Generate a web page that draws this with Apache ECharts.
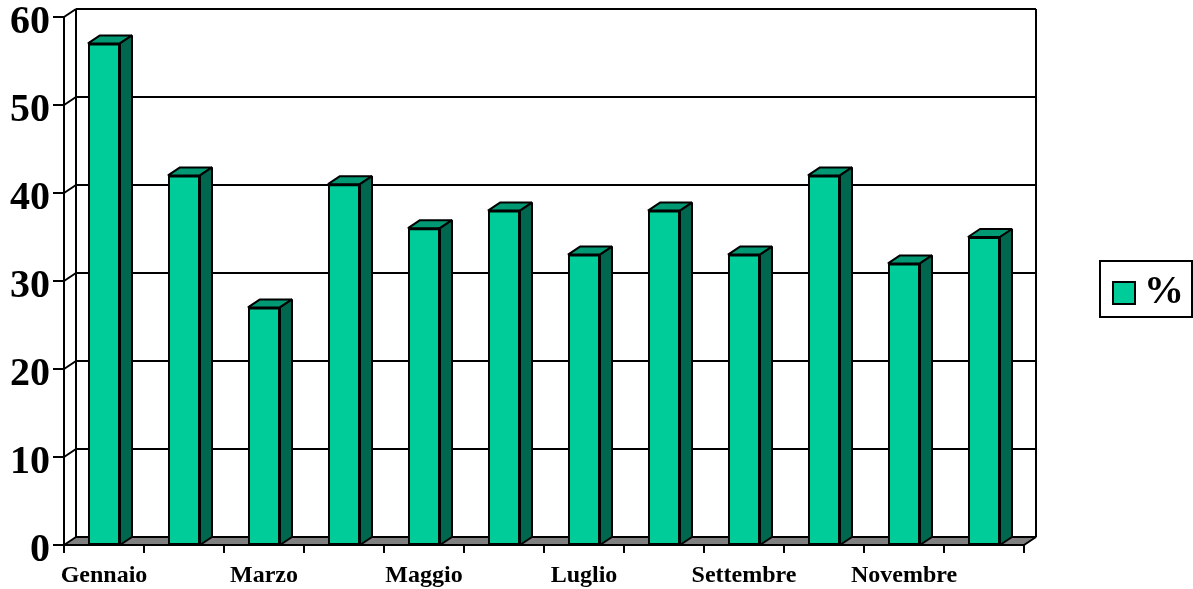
<!DOCTYPE html>
<html><head><meta charset="utf-8">
<style>html,body{margin:0;padding:0;background:#fff}#c{width:1193px;height:589px}</style>
<script src="https://cdn.jsdelivr.net/npm/echarts@6/dist/echarts.min.js"></script>
</head><body><div id="c"></div>
<script>
var months = ['Gennaio','Febbraio','Marzo','Aprile','Maggio','Giugno','Luglio','Agosto','Settembre','Ottobre','Novembre','Dicembre'];
var values = [57,42,27,41,36,38,33,38,33,42,32,35];
var yTicks = [0,10,20,30,40,50,60];
var seriesName = '%';

var depthX = 12, depthY = -8;
var FRONT = '#00CC99', TOP = '#009973', SIDE = '#00664D', FLOOR = '#808080', INK = '#000';
var FONT = '"Liberation Serif","Times New Roman",serif';
var stroke = {stroke: INK, lineWidth: 2, lineJoin: 'bevel'};

function poly(points, fill){
  return {type:'polygon', shape:{points:points}, style:Object.assign({fill:fill}, stroke)};
}
function line(a,b){
  return {type:'line', shape:{x1:a[0],y1:a[1],x2:b[0],y2:b[1]}, style:Object.assign({fill:null}, stroke)};
}

var chart = echarts.init(document.getElementById('c'), null, {renderer:'canvas'});
chart.setOption({
  animation:false,
  backgroundColor:'#fff',
  grid:{left:64, top:17, width:960, height:528, containLabel:false, outerBoundsMode:'none'},
  legend:{
    data:[seriesName], left:1100, top:261, orient:'vertical',
    borderColor:INK, borderWidth:2, padding:[12,8,4,12],
    itemWidth:22, itemHeight:22, itemGap:0, icon:'rect',
    selectedMode:false,
    textStyle:{fontFamily:FONT, fontWeight:'bold', fontSize:40, color:INK, padding:[0,0,0,4]}
  },
  xAxis:{
    type:'category', data:months, boundaryGap:true,
    axisLine:{onZero:false, lineStyle:{color:INK, width:2}},
    axisTick:{show:true, alignWithLabel:false, length:8, interval:0, lineStyle:{color:INK, width:2}},
    axisLabel:{interval:1, hideOverlap:false, margin:19, color:INK, fontFamily:FONT, fontWeight:'bold', fontSize:24},
    splitLine:{show:false}
  },
  yAxis:{
    type:'value', min:0, max:60, interval:10,
    axisLine:{show:true, lineStyle:{color:INK, width:2}},
    axisTick:{show:true, length:11, lineStyle:{color:INK, width:2}},
    axisLabel:{margin:14, formatter:'{n|{value}}', rich:{n:{color:INK, fontFamily:FONT, fontWeight:'bold', fontSize:40, padding:[12,0,0,0]}}},
    splitLine:{show:false}
  },
  series:[
    {
      name:'frame', type:'custom', z:1, silent:true, clip:false,
      data:yTicks.map(function(v){return [0,v];}),
      encode:{x:0,y:1},
      renderItem:function(params, api){
        var v = api.value(1);
        var band = api.size([1,0])[0];
        var l = api.coord([0,v]), r = api.coord([months.length-1,v]);
        var x0 = l[0]-band/2, x1 = r[0]+band/2, y = l[1];
        var kids = [];
        var bx0 = x0+depthX, bx1 = x1+depthX, by = y+depthY;
        if (v === 0) {
          var top = api.coord([0,yTicks[yTicks.length-1]])[1];
          kids.push(poly([[x0,y],[bx0,by],[bx1,by],[x1,y]], FLOOR));
          kids.push(line([bx0,by],[bx0,top+depthY]));
          kids.push(line([bx1,by],[bx1,top+depthY]));
        } else {
          kids.push(line([x0,y],[bx0,by]));
          kids.push(line([bx0,by],[bx1,by]));
        }
        return {type:'group', children:kids};
      }
    },
    {
      name:'depth', type:'custom', z:2, silent:true, clip:false,
      data:values.map(function(v,i){return [i,v];}),
      encode:{x:0,y:1},
      renderItem:function(params, api){
        var i = api.value(0), v = api.value(1);
        var t = api.coord([i,v]), b = api.coord([i,0]);
        var w = 32, xl = t[0]-w/2, xr = t[0]+w/2;
        return {type:'group', children:[
          poly([[xl,t[1]],[xl+depthX,t[1]+depthY],[xr+depthX,t[1]+depthY],[xr,t[1]]], TOP),
          poly([[xr,t[1]],[xr+depthX,t[1]+depthY],[xr+depthX,b[1]+depthY],[xr,b[1]]], SIDE)
        ]};
      }
    },
    {
      name:seriesName, type:'bar', z:3, data:values, barWidth:32,
      itemStyle:{color:FRONT, borderColor:INK, borderWidth:2}
    }
  ]
});
</script></body></html>
